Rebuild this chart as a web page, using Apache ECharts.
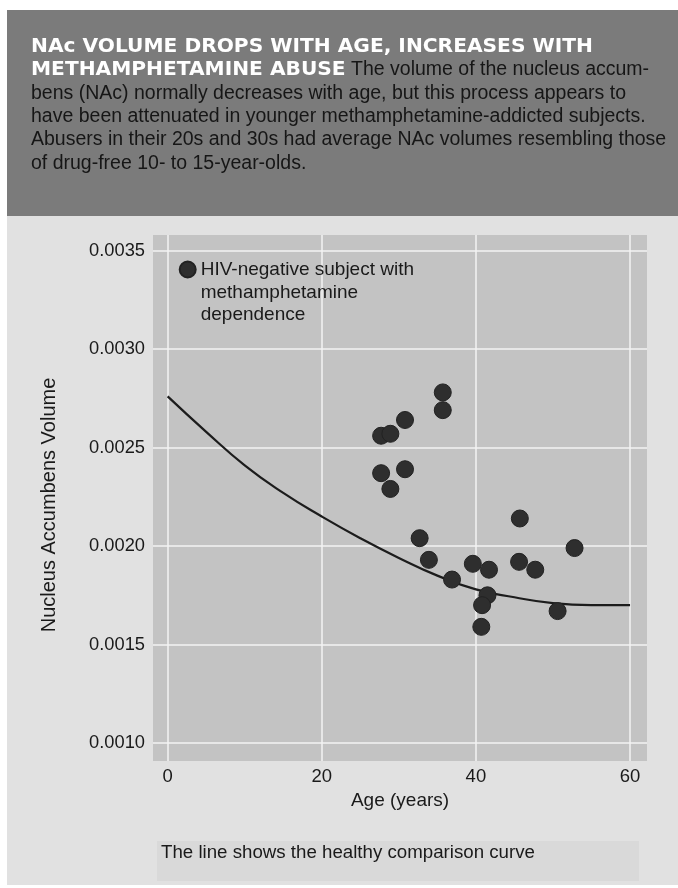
<!DOCTYPE html>
<html>
<head>
<meta charset="utf-8">
<script src="https://cdn.jsdelivr.net/npm/echarts@6/dist/echarts.min.js"></script>
<style>
  html, body { margin: 0; padding: 0; background: #ffffff; }
  #chart { width: 678px; height: 888px; }
</style>
</head>
<body>
<div id="chart"></div>
<script>
// Subject data: age (years) and nucleus accumbens volume
const subjectAges = [35.7, 35.7, 30.8, 27.7, 28.9, 27.7, 30.8, 28.9, 32.7, 33.9, 36.9, 39.6, 41.7, 41.5, 40.8, 40.7, 45.7, 45.6, 47.7, 50.6, 52.8];
const subjectVolumes = [0.00278, 0.00269, 0.00264, 0.00256, 0.00257, 0.00237, 0.00239, 0.00229, 0.00204, 0.00193, 0.00183, 0.00191, 0.00188, 0.00175, 0.00170, 0.00159, 0.00214, 0.00192, 0.00188, 0.00167, 0.00199];

// Healthy comparison curve
const curveAges = [0, 5, 10, 15, 20, 25, 30, 35, 40, 45, 50, 55, 60];
const curveVolumes = [0.00276, 0.00258, 0.00241, 0.00227, 0.00215, 0.00204, 0.00194, 0.00185, 0.00178, 0.00174, 0.00171, 0.00170, 0.00170];

const seriesName = 'HIV-negative subject with methamphetamine dependence';
const legendLines = ['HIV-negative subject with', 'methamphetamine', 'dependence'];
const xAxisTitle = 'Age (years)';
const yAxisTitle = 'Nucleus Accumbens Volume';
const headline1 = 'NAc VOLUME DROPS WITH AGE, INCREASES WITH';
const headline2 = 'METHAMPHETAMINE ABUSE';
const bodyLines = [
  ' The volume of the nucleus accum-',
  'bens (NAc) normally decreases with age, but this process appears to',
  'have been attenuated in younger methamphetamine-addicted subjects.',
  'Abusers in their 20s and 30s had average NAc volumes resembling those',
  'of drug-free 10- to 15-year-olds.'
];
const captionText = 'The line shows the healthy comparison curve';

const FONT = '"Liberation Sans", Arial, Helvetica, sans-serif';
const TITLE_FONT = '"DejaVu Sans", "Liberation Sans", sans-serif';

const scatterData = subjectAges.map((a, i) => [a, subjectVolumes[i]]);
const curveData = curveAges.map((a, i) => [a, curveVolumes[i]]);

const headerText =
  '{b|' + headline1 + '}\n' +
  '{b|' + headline2 + '}{n|' + bodyLines[0] + '}\n' +
  bodyLines.slice(1).map(l => '{n|' + l + '}').join('\n');

const chart = echarts.init(document.getElementById('chart'), null, { renderer: 'canvas' });

chart.setOption({
  backgroundColor: '#ffffff',
  animation: false,
  graphic: [
    { type: 'rect', z: -10, silent: true, shape: { x: 7, y: 10, width: 671, height: 206 }, style: { fill: '#7b7b7b' } },
    { type: 'rect', z: -10, silent: true, shape: { x: 7, y: 216, width: 671, height: 669 }, style: { fill: '#e1e1e1' } },
    { type: 'rect', z: -9, silent: true, shape: { x: 157, y: 841, width: 482, height: 40 }, style: { fill: '#d9d9d9' } },
    {
      type: 'text', z: 10, silent: true, x: 31, y: 35,
      style: {
        text: headerText,
        verticalAlign: 'top',
        rich: {
          b: { fontFamily: TITLE_FONT, fontWeight: 'bold', fontSize: 20.2, fill: '#ffffff', lineHeight: 23.3 },
          n: { fontFamily: FONT, fontSize: 19.5, fill: '#161616', lineHeight: 23.3 }
        }
      }
    },
    {
      type: 'text', z: 10, silent: true, x: 161, y: 853,
      style: { text: captionText, fontFamily: FONT, fontSize: 18.7, fill: '#1a1a1a', verticalAlign: 'middle' }
    }
  ],
  grid: {
    left: 153, right: 31, top: 235, bottom: 127,
    show: true, backgroundColor: '#c3c3c3', borderWidth: 0
  },
  legend: {
    data: [seriesName],
    left: 178.7, top: 212.5,
    padding: 0,
    itemWidth: 16, itemHeight: 16,
    icon: 'circle',
    selectedMode: false,
    formatter: () => '\n\n' + legendLines.join('\n'),
    textStyle: { fontFamily: FONT, fontSize: 19, color: '#1a1a1a', lineHeight: 22.8 }
  },
  xAxis: {
    type: 'value',
    min: -1.9, max: 62.2,
    splitNumber: 3, minInterval: 20, maxInterval: 20,
    name: xAxisTitle, nameLocation: 'middle', nameGap: 28,
    nameTextStyle: { fontFamily: FONT, fontSize: 19, color: '#1a1a1a' },
    axisLine: { show: false }, axisTick: { show: false },
    axisLabel: { fontFamily: FONT, fontSize: 18.5, color: '#1a1a1a', margin: 6, showMinLabel: false, showMaxLabel: false },
    splitLine: { show: true, showMinLine: false, showMaxLine: false, lineStyle: { color: '#f3f3f3', width: 1.5 } }
  },
  yAxis: {
    type: 'value',
    min: 0.000909, max: 0.003579,
    splitNumber: 5, minInterval: 0.0005, maxInterval: 0.0005,
    name: yAxisTitle, nameLocation: 'middle', nameRotate: 90, nameGap: 94,
    nameTextStyle: { fontFamily: FONT, fontSize: 20, color: '#1a1a1a', padding: [0, 14, 0, 0] },
    axisLine: { show: false }, axisTick: { show: false },
    axisLabel: { fontFamily: FONT, fontSize: 18.3, color: '#1a1a1a', margin: 8, showMinLabel: false, showMaxLabel: false,
      formatter: v => v.toFixed(4) },
    splitLine: { show: true, showMinLine: false, showMaxLine: false, lineStyle: { color: '#f3f3f3', width: 1.5 } }
  },
  series: [
    {
      name: 'Healthy comparison curve',
      type: 'line',
      data: curveData,
      smooth: true,
      showSymbol: false,
      silent: true,
      z: 2,
      lineStyle: { color: '#1c1c1c', width: 2.2 }
    },
    {
      name: seriesName,
      type: 'scatter',
      data: scatterData,
      symbolSize: 17,
      z: 3,
      itemStyle: { color: '#2e2e2e', borderColor: '#222222', borderWidth: 1, opacity: 1 }
    }
  ]
});
</script>
</body>
</html>
